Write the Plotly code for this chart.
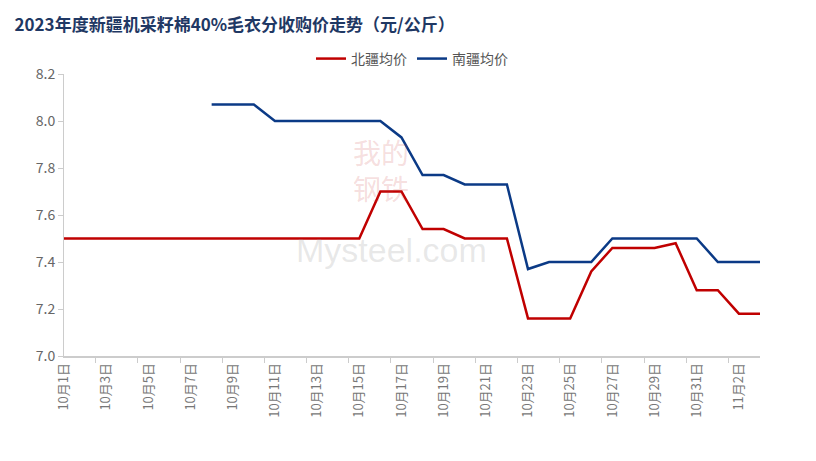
import plotly.graph_objects as go

dates = [f"10月{d}日" for d in range(1, 32)] + ["11月1日", "11月2日", "11月3日"]
north = [7.5]*15 + [7.7, 7.7, 7.54, 7.54, 7.5, 7.5, 7.5, 7.16, 7.16, 7.16, 7.36, 7.46, 7.46, 7.46, 7.48, 7.28, 7.28, 7.18, 7.18]
south = [None]*7 + [8.07, 8.07, 8.07, 8.0, 8.0, 8.0, 8.0, 8.0, 8.0, 7.93, 7.77, 7.77, 7.73, 7.73, 7.73,
                    7.37, 7.4, 7.4, 7.4, 7.5, 7.5, 7.5, 7.5, 7.5, 7.4, 7.4, 7.4]

fig = go.Figure()
fig.add_trace(go.Scatter(x=dates, y=north, name="北疆均价", mode="lines",
                         line=dict(color="#C00000", width=2.5)))
fig.add_trace(go.Scatter(x=dates, y=south, name="南疆均价", mode="lines",
                         line=dict(color="#0B3A86", width=2.5)))
fig.add_annotation(text="我的<br>钢铁", x=0.455, y=0.80, xref="paper", yref="paper", showarrow=False,
                   yanchor="top", font=dict(size=28, color="rgba(200,60,60,0.18)", family="Noto Sans CJK SC"))
fig.add_annotation(text="Mysteel.com", x=0.47, y=0.30, xref="paper", yref="paper", showarrow=False,
                   font=dict(size=34, color="rgba(150,150,150,0.22)", family="Arial"))
fig.update_layout(
    width=816, height=461, plot_bgcolor="white", paper_bgcolor="white",
    margin=dict(l=56, r=64, t=66, b=113),
    title=dict(text="<b>2023年度新疆机采籽棉40%毛衣分收购价走势（元/公斤）</b>", x=0.008, y=0.975,
               font=dict(size=17, color="#1F3864", family="Noto Sans CJK SC")),
    legend=dict(orientation="h", x=0.5, xanchor="center", y=1.11, font=dict(size=14, color="#555")),
    font=dict(family="Noto Sans CJK SC", color="#666"),
)
fig.update_xaxes(type="category", tickangle=-90, dtick=2, tickson="boundaries", ticks="outside",
                 ticklen=5, tickcolor="#ccc", showline=True, linecolor="#ccc", linewidth=1.5,
                 showgrid=False, tickfont=dict(size=13, color="#777"), automargin=False)
fig.update_yaxes(range=[7.0, 8.2], dtick=0.2, tickformat=".1f", showgrid=False, showline=True,
                 linecolor="#ccc", ticks="outside", ticklen=5, tickcolor="#ccc",
                 tickfont=dict(size=14, color="#666"), automargin=False)
fig.write_html("out.html")
